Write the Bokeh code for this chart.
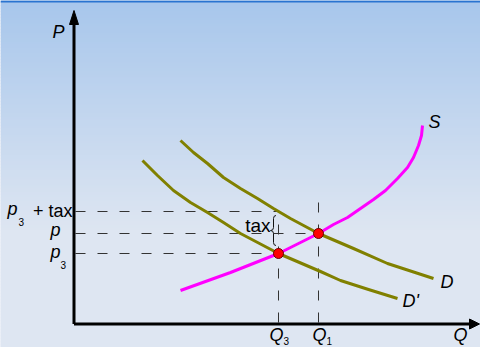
import numpy as np
from bokeh.plotting import figure
from bokeh.models import Range1d
from bokeh.core.properties import value
from bokeh.embed import file_html
from bokeh.resources import INLINE

# ---- data (quantity Q, price P; origin at the axes' corner) ----
S_Q = [105, 155, 203, 243, 258, 272, 285, 298, 310, 322, 332, 338, 343, 346, 347]
S_P = [32, 50, 69, 89, 98, 105, 114, 123, 132, 144, 155, 165, 177, 187, 197]
D_Q = [105, 118, 132, 148, 165, 182, 198, 215, 243, 278, 312, 358]
D_P = [182, 170, 159, 145, 134, 124, 114, 104, 89, 74, 59, 44]
D2_Q = [67, 82, 98, 115, 132, 148, 165, 203, 245, 265, 293, 322]
D2_P = [162, 147, 132, 120, 110, 100, 89, 69, 51, 42, 33, 24]

Q1, Q3 = 243, 203
P_EQ, P3, P3_TAX = 89, 69, 111
Q1_GUIDE_TOP = 126
Q_AXIS_END, P_AXIS_END = 404, 312

W, H = 480, 347
X0, X1 = -75, 405
Y0, Y1 = -25, 322

FONT = value("Liberation Sans")
OLIVE = "#808000"
MAGENTA = "#ff00ff"

p = figure(width=W, height=H, output_backend="svg", toolbar_location=None,
           x_range=Range1d(X0, X1), y_range=Range1d(Y0, Y1),
           min_border=0, min_border_left=0, min_border_right=0,
           min_border_top=0, min_border_bottom=0)
p.axis.visible = False
p.grid.visible = False
p.outline_line_color = None
p.background_fill_color = "#dfe6f2"
p.border_fill_color = "#dfe6f2"

# ---- background gradient (light blue at top, paler below) ----
top_rgb = np.array([168, 199, 236])
bot_rgb = np.array([222, 230, 242])
edges = np.arange(Y0, Y1 + 3, 3)
bands_b, bands_t, cols = [], [], []
for b in edges[:-1]:
    t = b + 3
    px = 322 - (b + t) / 2
    f = np.clip((px - 2) / 228.0, 0, 1)
    c = (top_rgb + f * (bot_rgb - top_rgb)).astype(int)
    bands_b.append(b); bands_t.append(t + 0.5)
    cols.append("#%02x%02x%02x" % tuple(c))
p.quad(left=X0, right=X1, bottom=bands_b, top=bands_t, fill_color=cols, line_color=None)
# thin blue rule along the top edge
p.quad(left=X0, right=X1, bottom=Y1 - 2, top=Y1, fill_color="#2a74d0", line_color=None)

# ---- dashed guide lines ----
dash = dict(line_color="#333333", line_width=1, line_dash="10 12")
p.segment(x0=[0, 0, 0], y0=[P3_TAX, P_EQ, P3], x1=[Q3, Q1, Q3], y1=[P3_TAX, P_EQ, P3], **dash)
p.segment(x0=[Q3, Q1], y0=[0, 0], x1=[Q3, Q1], y1=[P3_TAX, Q1_GUIDE_TOP], **dash)

# ---- curves ----
p.line(D2_Q, D2_P, line_color=OLIVE, line_width=3, line_join="round")
p.line(D_Q, D_P, line_color=OLIVE, line_width=3, line_join="round")
p.line(S_Q, S_P, line_color=MAGENTA, line_width=3, line_join="round")

# ---- equilibrium points ----
p.scatter([Q3, Q1], [P3, P_EQ], size=10, fill_color="#ff0000", line_color="#6a0000", line_width=1)

# ---- axes with arrow heads ----
p.line([-1.5, -1.5], [-1.5, P_AXIS_END - 12], line_color="black", line_width=3)
p.line([-1.5, Q_AXIS_END - 8], [-1.5, -1.5], line_color="black", line_width=3)
p.patch([-1.5, -1.5 - 4.5, -1.5 + 4.5], [P_AXIS_END, P_AXIS_END - 14, P_AXIS_END - 14],
        fill_color="black", line_color="black", line_width=1)
p.patch([Q_AXIS_END, Q_AXIS_END - 10, Q_AXIS_END - 10], [-1.5, -1.5 + 5, -1.5 - 5],
        fill_color="black", line_color="black", line_width=1)

# ---- brace for tax ----
ytop, ybot = P3_TAX - 4, P3 + 8
ymid = (ytop + ybot) / 2
xr, xs, xl = Q3 - 2.5, Q3 - 5, Q3 - 8
br = dict(line_color="#111111", line_width=1)
p.quadratic(x0=[xr, xs, xl, xs], y0=[ytop, ymid + 3, ymid, ybot + 3],
            x1=[xs, xl, xs, xr], y1=[ytop - 3, ymid, ymid - 3, ybot],
            cx=[xs, xs, xs, xs], cy=[ytop, ymid, ymid, ybot], **br)
p.segment(x0=[xs, xs], y0=[ytop - 3, ymid - 3], x1=[xs, xs], y1=[ymid + 3, ybot + 3], **br)


def txt(x, y, s, size=18, italic=False, align="left", xo=0, yo=0):
    # yo: wanted baseline offset (px, downwards); small correction for renderer baseline
    p.text(x=[x], y=[y], text=[s], text_font=FONT, text_font_size=f"{size}px",
           text_font_style="italic" if italic else "normal", text_align=align,
           text_baseline="alphabetic", x_offset=xo, y_offset=yo - 0.35 * size,
           text_color="black")


# axis titles
txt(0, P_AXIS_END, "P", italic=True, align="right", xo=-11, yo=28)
txt(Q_AXIS_END, 0, "Q", italic=True, align="left", xo=-26, yo=19)
# quantity ticks
txt(Q3, 0, "Q", italic=True, align="center", xo=-2, yo=19)
txt(Q3, 0, "3", size=10, align="left", xo=5, yo=22)
txt(Q1, 0, "Q", italic=True, align="center", xo=1, yo=19)
txt(Q1, 0, "1", size=10, align="left", xo=8, yo=22)
# price ticks
txt(0, P3_TAX, "p", italic=True, align="right", xo=-58, yo=4)
txt(0, P3_TAX, "3", size=10, align="left", xo=-57, yo=14)
txt(0, P3_TAX, "+ tax", align="right", xo=-3, yo=6)
txt(0, P_EQ, "p", italic=True, align="right", xo=-15, yo=3)
txt(0, P3, "p", italic=True, align="right", xo=-15, yo=5)
txt(0, P3, "3", size=10, align="left", xo=-15, yo=15)
# curve labels
txt(S_Q[-1], S_P[-1], "S", italic=True, xo=6, yo=3)
txt(D_Q[-1], D_P[-1], "D", italic=True, xo=7, yo=10)
txt(D2_Q[-1], D2_P[-1], "D'", italic=True, xo=5, yo=9)
# tax label
txt(Q3, ymid, "tax", size=19, align="right", xo=-8, yo=2)

open("out.html", "w").write(file_html(p, INLINE))
